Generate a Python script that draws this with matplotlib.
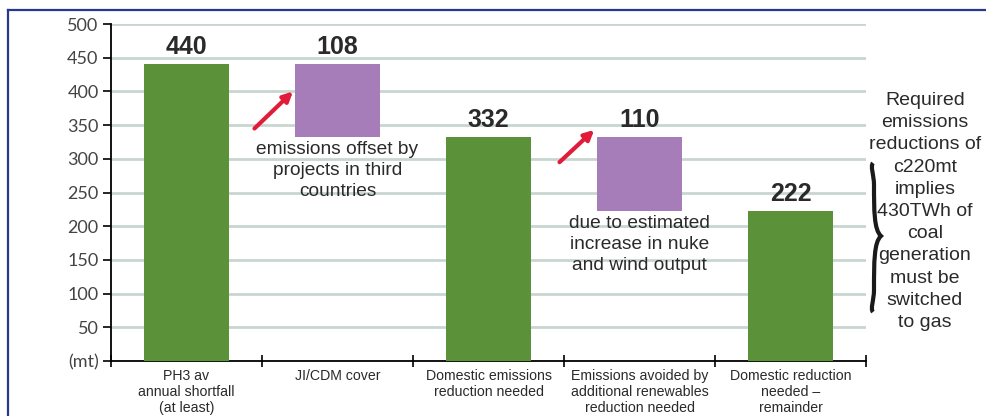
import numpy as np
import matplotlib.pyplot as plt
from matplotlib.lines import Line2D
from matplotlib.path import Path
from matplotlib.patches import PathPatch

plt.rcParams['font.family'] = ['Liberation Sans', 'DejaVu Sans']

# Data
categories = ["PH3 av\nannual shortfall\n(at least)", "JI/CDM cover",
              "Domestic emissions\nreduction needed",
              "Emissions avoided by\nadditional renewables\nreduction needed",
              "Domestic reduction\nneeded \u2013\nremainder"]
bar_tops = [440, 440, 332, 332, 222]
bar_heights = [440, 108, 332, 110, 222]
bar_labels = ["440", "108", "332", "110", "222"]
bar_kinds = ["total", "step", "total", "step", "total"]
notes = {1: "emissions offset by\nprojects in third\ncountries",
         3: "due to estimated\nincrease in nuke\nand wind output"}
yticks = [0, 50, 100, 150, 200, 250, 300, 350, 400, 450, 500]
yticklabels = ["(mt)"] + [str(v) for v in yticks[1:]]
side_note = ("Required\nemissions\nreductions of\nc220mt\nimplies\n430TWh of\n"
             "coal\ngeneration\nmust be\nswitched\nto gas")

green = "#5b9139"
purple = "#a67db8"
red = "#e01c3a"
grid_col = "#c9d6cf"
txt = "#2a2a2a"

fig = plt.figure(figsize=(9.86, 4.16), dpi=100)
ax = fig.add_axes([0.1126, 0.1322, 0.7657, 0.810])

x = np.arange(len(categories))
bottoms = [t - h for t, h in zip(bar_tops, bar_heights)]
colors = [green if k == "total" else purple for k in bar_kinds]
ax.bar(x, bar_heights, bottom=bottoms, width=0.56, color=colors, zorder=3)

for i in x:
    ax.text(i, bar_tops[i] + 8, bar_labels[i], ha="center", va="bottom",
            fontsize=18, fontweight="bold", color=txt, zorder=4)

for i, note in notes.items():
    ax.text(i, bottoms[i] - 6, note, ha="center", va="top", fontsize=13.8,
            color=txt, linespacing=1.3, zorder=4)

# red arrows pointing at the offset bars
ax.annotate("", xy=(0.705, 400), xytext=(0.45, 345),
            arrowprops=dict(arrowstyle="-|>", color=red, lw=3,
                            mutation_scale=14, shrinkA=0, shrinkB=0))
ax.annotate("", xy=(2.70, 343), xytext=(2.47, 295),
            arrowprops=dict(arrowstyle="-|>", color=red, lw=3,
                            mutation_scale=14, shrinkA=0, shrinkB=0))

ax.set_xlim(-0.5, 4.5)
ax.set_ylim(0, 500)
ax.set_yticks(yticks)
ax.set_yticklabels(yticklabels, family=["Lato", "DejaVu Sans"], fontsize=13,
                   color="#444444")
for v in yticks[1:]:
    ax.axhline(v, color=grid_col, lw=2, zorder=1)

ax.set_xticks(np.arange(-0.5, 5, 1))
ax.set_xticklabels([])
ax.set_xticks(x, minor=True)
ax.set_xticklabels(categories, minor=True, fontsize=10.2, color=txt,
                   linespacing=1.15)
ax.tick_params(axis="x", which="major", direction="inout", length=9,
               width=1.2)
ax.tick_params(axis="x", which="minor", length=0, pad=6)
ax.tick_params(axis="y", length=6, width=1.2, pad=3)
for s in ["top", "right"]:
    ax.spines[s].set_visible(False)
ax.spines["left"].set_linewidth(1.3)
ax.spines["bottom"].set_linewidth(1.3)

# side note and brace
fig.text(0.938, 1 - 92 / 416, side_note, ha="center", va="top", fontsize=14,
         color=txt, linespacing=1.4)

W, H = 986.0, 416.0
def px(xp, yp):
    return (xp / W, 1 - yp / H)

pts = [(873, 163), (870, 166), (874, 175), (874, 185),
       (874, 210), (874, 230), (881, 236),
       (874, 242), (874, 262), (874, 290),
       (874, 300), (870, 309), (873, 312)]
codes = [Path.MOVETO] + [Path.CURVE4] * 12
brace = Path([px(a, b) for a, b in pts], codes)
fig.patches.append(PathPatch(brace, transform=fig.transFigure, fill=False,
                             lw=3, color="#1a1a1a"))

# frame lines
frame = "#27388f"
fig.add_artist(Line2D([8 / W, 1], [1 - 10 / H] * 2, color=frame, lw=1.6,
                      transform=fig.transFigure))
fig.add_artist(Line2D([8 / W] * 2, [0, 1 - 10 / H], color=frame, lw=1.6,
                      transform=fig.transFigure))

fig.savefig("out.png", dpi=100)
